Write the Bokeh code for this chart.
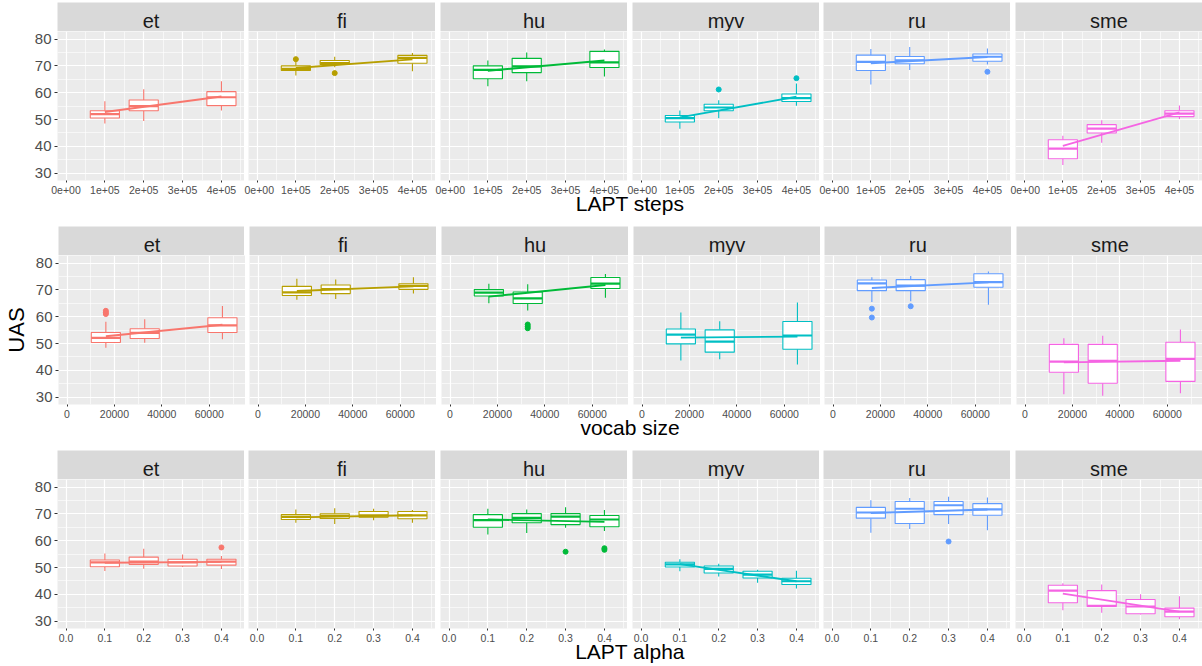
from bokeh.plotting import figure
from bokeh.layouts import column, row
from bokeh.models import Range1d, FixedTicker, Label, Grid, CustomJSTickFormatter
from bokeh.embed import file_html
from bokeh.resources import INLINE

FONT = "Liberation Sans"

langs = ["et", "fi", "hu", "myv", "ru", "sme"]
lang_colors = ["#F8766D", "#B79F00", "#00BA38", "#00BFC4", "#619CFF", "#F564E3"]

y_ticks = [30, 40, 50, 60, 70, 80]
y_minor = [35, 45, 55, 65, 75]

# ---------------- LAPT steps ----------------
steps_x = [100000, 200000, 400000]
steps_ticks = [0, 100000, 200000, 300000, 400000]
steps_minor = [50000, 150000, 250000, 350000, 450000]
steps_tick_labels = ["0e+00", "1e+05", "2e+05", "3e+05", "4e+05"]
steps_lower = {"et": [48.5, 49.5, 53.4], "fi": [66.4, 69.5, 68.0], "hu": [62.4, 64.3, 66.0],
               "myv": [46.6, 50.5, 55.1], "ru": [63.1, 68.5, 70.5], "sme": [33.1, 41.4, 50.2]}
steps_q1 = {"et": [50.6, 53.3, 55.2], "fi": [68.3, 70.5, 71.0], "hu": [65.2, 67.5, 69.4],
            "myv": [49.1, 53.3, 56.7], "ru": [68.3, 70.8, 71.7], "sme": [35.4, 45.0, 51.1]}
steps_median = {"et": [52.0, 55.0, 58.3], "fi": [68.9, 71.0, 73.0], "hu": [68.5, 69.8, 71.3],
                "myv": [50.5, 54.5, 58.0], "ru": [71.5, 72.1, 73.4], "sme": [39.2, 46.6, 52.2]}
steps_q3 = {"et": [53.3, 57.3, 60.4], "fi": [70.0, 72.0, 73.9], "hu": [70.0, 72.8, 75.4],
            "myv": [51.5, 55.7, 59.5], "ru": [74.0, 73.5, 74.4], "sme": [42.5, 48.1, 53.3]}
steps_upper = {"et": [56.8, 61.3, 64.3], "fi": [71.5, 73.4, 74.8], "hu": [72.0, 75.0, 76.1],
               "myv": [53.4, 57.2, 63.4], "ru": [76.3, 77.0, 76.5], "sme": [44.0, 49.7, 55.2]}
steps_out_x = {"fi": [100000, 200000], "myv": [200000, 400000], "ru": [400000]}
steps_out_y = {"fi": [72.5, 67.3], "myv": [61.2, 65.4], "ru": [67.8]}
steps_fit = {"et": [52.8, 58.6], "fi": [69.2, 72.4], "hu": [68.2, 72.0],
             "myv": [50.8, 58.5], "ru": [71.0, 73.3], "sme": [40.2, 52.7]}

# ---------------- vocab size ----------------
vocab_x = [16384, 32768, 65536]
vocab_ticks = [0, 20000, 40000, 60000]
vocab_minor = [10000, 30000, 50000, 70000]
vocab_tick_labels = ["0", "20000", "40000", "60000"]
vocab_lower = {"et": [48.4, 50.3, 51.6], "fi": [66.3, 66.6, 68.6], "hu": [65.0, 62.3, 67.1],
               "myv": [43.7, 44.2, 42.2], "ru": [65.5, 65.8, 64.5], "sme": [31.1, 30.6, 31.5]}
vocab_q1 = {"et": [50.4, 51.9, 54.1], "fi": [67.9, 68.6, 70.2], "hu": [67.7, 64.9, 70.5],
            "myv": [49.9, 46.8, 47.9], "ru": [69.7, 69.7, 71.0], "sme": [39.3, 35.2, 35.9]}
vocab_median = {"et": [52.1, 54.0, 56.8], "fi": [69.1, 70.3, 71.5], "hu": [69.0, 66.8, 72.3],
                "myv": [53.3, 50.7, 53.0], "ru": [72.4, 71.6, 72.9], "sme": [43.3, 43.6, 44.3]}
vocab_q3 = {"et": [54.1, 55.5, 59.6], "fi": [71.3, 71.8, 72.3], "hu": [70.1, 69.2, 74.6],
            "myv": [55.4, 55.1, 58.2], "ru": [73.7, 73.8, 76.0], "sme": [49.7, 49.7, 50.5]}
vocab_upper = {"et": [58.1, 59.1, 64.0], "fi": [74.1, 73.9, 74.7], "hu": [72.3, 72.1, 75.9],
               "myv": [61.6, 58.3, 65.3], "ru": [74.7, 75.2, 76.8], "sme": [52.0, 52.9, 55.2]}
vocab_out_x = {"et": [16384, 16384, 16384], "hu": [32768, 32768, 32768], "ru": [16384, 16384, 32768]}
vocab_out_y = {"et": [61.0, 61.6, 62.2], "hu": [55.7, 56.4, 57.1], "ru": [63.0, 59.7, 63.9]}
vocab_fit = {"et": [52.7, 57.0], "fi": [69.6, 71.3], "hu": [67.5, 71.8],
             "myv": [52.2, 52.6], "ru": [70.7, 72.8], "sme": [43.0, 43.6]}

# ---------------- LAPT alpha ----------------
alpha_x = [0.1, 0.2, 0.3, 0.4]
alpha_ticks = [0.0, 0.1, 0.2, 0.3, 0.4]
alpha_minor = [0.05, 0.15, 0.25, 0.35, 0.45]
alpha_tick_labels = ["0.0", "0.1", "0.2", "0.3", "0.4"]
alpha_lower = {"et": [48.7, 49.6, 50.2, 49.5], "fi": [66.7, 66.2, 67.6, 66.7], "hu": [62.3, 62.9, 64.8, 63.6],
               "myv": [48.6, 46.7, 44.3, 42.2], "ru": [63.0, 64.4, 66.2, 63.9], "sme": [34.1, 33.2, 32.5, 30.7]}
alpha_q1 = {"et": [50.3, 51.2, 50.6, 50.9], "fi": [67.9, 68.3, 68.8, 68.2], "hu": [65.0, 66.7, 66.0, 65.2],
            "myv": [50.2, 48.0, 46.1, 43.7], "ru": [68.4, 66.4, 69.7, 69.5], "sme": [36.9, 35.5, 32.8, 31.7]}
alpha_median = {"et": [51.9, 52.2, 51.9, 52.2], "fi": [68.9, 69.2, 69.4, 69.4], "hu": [67.7, 68.5, 69.0, 67.9],
                "myv": [51.2, 49.5, 47.4, 44.9], "ru": [70.5, 71.9, 73.2, 71.7], "sme": [41.4, 35.7, 35.5, 33.6]}
alpha_q3 = {"et": [52.8, 53.9, 53.1, 53.1], "fi": [69.7, 70.0, 70.9, 70.9], "hu": [69.7, 70.1, 70.1, 69.4],
            "myv": [52.0, 50.6, 48.6, 46.0], "ru": [72.4, 74.6, 74.6, 73.8], "sme": [43.4, 41.4, 38.1, 34.9]}
alpha_upper = {"et": [55.2, 57.0, 54.9, 54.3], "fi": [71.6, 72.1, 71.9, 71.4], "hu": [71.9, 71.6, 72.5, 71.4],
               "myv": [53.1, 51.4, 49.2, 48.8], "ru": [75.1, 75.9, 76.4, 76.1], "sme": [44.2, 43.7, 40.1, 39.3]}
alpha_out_x = {"et": [0.4], "hu": [0.3, 0.4, 0.4], "ru": [0.3]}
alpha_out_y = {"et": [57.5], "hu": [55.9, 56.6, 57.2], "ru": [59.7]}
alpha_fit = {"et": [51.8, 52.1], "fi": [68.7, 69.5], "hu": [67.9, 67.0],
             "myv": [51.3, 44.9], "ru": [70.3, 71.6], "sme": [40.3, 33.6]}

factors = [
    dict(title="LAPT steps", x=steps_x, ticks=steps_ticks, minor=steps_minor, labels=steps_tick_labels,
         lower=steps_lower, q1=steps_q1, med=steps_median, q3=steps_q3, upper=steps_upper,
         ox=steps_out_x, oy=steps_out_y, fit=steps_fit),
    dict(title="vocab size", x=vocab_x, ticks=vocab_ticks, minor=vocab_minor, labels=vocab_tick_labels,
         lower=vocab_lower, q1=vocab_q1, med=vocab_median, q3=vocab_q3, upper=vocab_upper,
         ox=vocab_out_x, oy=vocab_out_y, fit=vocab_fit),
    dict(title="LAPT alpha", x=alpha_x, ticks=alpha_ticks, minor=alpha_minor, labels=alpha_tick_labels,
         lower=alpha_lower, q1=alpha_q1, med=alpha_median, q3=alpha_q3, upper=alpha_upper,
         ox=alpha_out_x, oy=alpha_out_y, fit=alpha_fit),
]

# ---------------- layout (pixels) ----------------
FRAME_W = 187
FRAME_H = 149
STRIP_H = 29
AXIS_B = 20
TITLE_OVERLAP = 10
LEFTS = [57, 4, 5, 5, 4, 5]
Y_LO, Y_HI = 27.3, 82.8


def x_range_for(xs):
    resolution = min(b - a for a, b in zip(xs[:-1], xs[1:]))
    width = 0.75 * resolution
    hi = max(xs) + width / 2
    pad = 0.05 * hi
    return width, Range1d(-pad, hi + pad)


def base_fig(j, h, **kw):
    f = figure(frame_width=FRAME_W, frame_height=h, min_border_left=LEFTS[j], min_border_right=0,
               min_border_top=0, toolbar_location=None, output_backend="svg", title=None, **kw)
    f.outline_line_color = None
    f.border_fill_color = "white"
    return f


def strip_fig(j, lang):
    s = base_fig(j, STRIP_H, min_border_bottom=0, x_range=Range1d(0, 1), y_range=Range1d(0, STRIP_H),
                 x_axis_location=None, y_axis_location=None)
    s.background_fill_color = "#D9D9D9"
    s.xgrid.grid_line_color = None
    s.ygrid.grid_line_color = None
    s.add_layout(Label(x=0.5, y=10.5, text=lang, text_align="center", text_baseline="alphabetic",
                       text_font=FONT, text_font_size="20px", text_color="#1A1A1A"))
    return s


def panel_fig(fi, j, lang, color, ylabel):
    fac = factors[fi]
    xs = fac["x"]
    w, xr = x_range_for(xs)
    p = base_fig(j, FRAME_H, min_border_bottom=AXIS_B, x_range=xr, y_range=Range1d(Y_LO, Y_HI),
                 y_axis_location="left" if j == 0 else None)
    p.background_fill_color = "#EBEBEB"

    xt = FixedTicker(ticks=fac["ticks"], minor_ticks=fac["minor"])
    xax = p.xaxis[0]
    xax.ticker = xt
    xax.formatter = CustomJSTickFormatter(
        args=dict(tv=fac["ticks"], tl=fac["labels"]),
        code="const i = tv.findIndex(v => Math.abs(v - tick) < 1e-9); return i >= 0 ? tl[i] : String(tick);")
    xax.axis_line_color = None
    xax.major_tick_line_color = "#333333"
    xax.major_tick_out = 2
    xax.major_tick_in = 0
    xax.minor_tick_line_color = None
    xax.major_label_standoff = 1
    xax.major_label_text_font = FONT
    xax.major_label_text_font_size = "10.5px"
    xax.major_label_text_color = "#4D4D4D"

    yt = FixedTicker(ticks=y_ticks, minor_ticks=y_minor)
    if len(p.ygrid) == 0:
        p.add_layout(Grid(dimension=1, ticker=yt))
    p.ygrid.ticker = yt
    p.xgrid.ticker = xt
    for g in (p.xgrid, p.ygrid):
        g.grid_line_color = "white"
        g.grid_line_width = 1.2
        g.minor_grid_line_color = "white"
        g.minor_grid_line_width = 0.6

    if j == 0:
        yax = p.yaxis[0]
        yax.ticker = yt
        yax.axis_line_color = None
        yax.major_tick_line_color = "#333333"
        yax.major_tick_out = 3
        yax.major_tick_in = 0
        yax.minor_tick_line_color = None
        yax.major_label_standoff = 2
        yax.major_label_text_font = FONT
        yax.major_label_text_font_size = "15px"
        yax.major_label_text_color = "#4D4D4D"
        if ylabel:
            yax.axis_label = ylabel
            yax.axis_label_text_font = FONT
            yax.axis_label_text_font_size = "22px"
            yax.axis_label_text_font_style = "normal"
            yax.axis_label_text_color = "black"
            yax.axis_label_standoff = 4

    lo, q1, md, q3, hi = (fac[k][lang] for k in ("lower", "q1", "med", "q3", "upper"))
    half = w / 2
    p.segment(x0=xs, y0=q3, x1=xs, y1=hi, line_color=color, line_width=1.1)
    p.segment(x0=xs, y0=q1, x1=xs, y1=lo, line_color=color, line_width=1.1)
    p.vbar(x=xs, width=w, bottom=q1, top=q3, fill_color="white", line_color=color, line_width=1.1)
    p.segment(x0=[x - half for x in xs], x1=[x + half for x in xs], y0=md, y1=md,
              line_color=color, line_width=2.2)
    if lang in fac["ox"]:
        p.scatter(x=fac["ox"][lang], y=fac["oy"][lang], size=5, fill_color=color, line_color=color)
    p.line(x=[min(xs), max(xs)], y=fac["fit"][lang], line_color=color, line_width=1.9)
    return p


def title_fig(text, h, base):
    t = figure(frame_width=sum(LEFTS[1:]) + FRAME_W * 6, frame_height=h, min_border_left=LEFTS[0],
               min_border_right=0, min_border_top=0, min_border_bottom=0, toolbar_location=None,
               output_backend="svg", title=None, x_range=Range1d(0, 1), y_range=Range1d(0, h),
               x_axis_location=None, y_axis_location=None, margin=(-TITLE_OVERLAP, 0, 0, 0))
    t.outline_line_color = None
    t.background_fill_color = None
    t.border_fill_color = None
    t.xgrid.grid_line_color = None
    t.ygrid.grid_line_color = None
    t.add_layout(Label(x=0.5, y=base, text=text, text_align="center", text_baseline="alphabetic",
                       text_font=FONT, text_font_size="21px", text_color="black"))
    return t


blocks = []
for fi, fac in enumerate(factors):
    cells = []
    for j, (lang, color) in enumerate(zip(langs, lang_colors)):
        cells.append(column(strip_fig(j, lang),
                            panel_fig(fi, j, lang, color, "UAS" if fi == 1 else None), spacing=0))
    last = fi == len(factors) - 1
    th = 26 if last else 36
    blocks.append(column(row(cells, spacing=0), title_fig(fac["title"], th, 13.5 if last else 23), spacing=0))

root = column(blocks, spacing=0, margin=(2, 0, 0, 0))

open("out.html", "w").write(file_html(root, INLINE))
